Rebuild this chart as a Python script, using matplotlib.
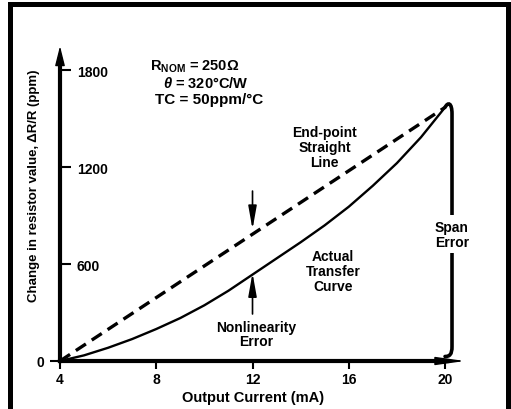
import numpy as np
import matplotlib
matplotlib.use('Agg')
import matplotlib.pyplot as plt
from matplotlib.patches import Rectangle, PathPatch
from matplotlib.path import Path
from matplotlib.ticker import FixedLocator, FixedFormatter

plt.rcParams['font.family'] = ['Liberation Sans', 'DejaVu Sans']
plt.rcParams['font.weight'] = 'bold'
plt.rcParams['axes.labelweight'] = 'bold'
plt.rcParams['mathtext.fontset'] = 'custom'
plt.rcParams['mathtext.rm'] = 'Liberation Sans:bold'
plt.rcParams['mathtext.it'] = 'Liberation Sans:italic:bold'
plt.rcParams['mathtext.bf'] = 'Liberation Sans:bold'

# self-heating transfer curve of the sense resistor, 4-20 mA loop
current_ma = [4, 5, 6, 7, 8, 9, 10, 11, 12, 13, 14, 15, 16, 17, 18, 19, 20]
actual_ppm = [0, 35, 82, 136, 198, 266, 345, 435, 535, 635, 735, 840, 955,
              1085, 1225, 1385, 1570]

# straight line through the two end points
endpoint_ma = [4, 20]
endpoint_ppm = [0, 1570]

x_ticks = [4, 8, 12, 16, 20]
y_ticks = [600, 1200, 1800]
y_zero = [0]

nonlin_ma = 12

fig = plt.figure(figsize=(5.11, 4.10), dpi=100)
ax = fig.add_axes([60/511, 48/410, 405/511, 315/410])
ax.set_xlim(4, 20.83)
ax.set_ylim(0, 1950)
ax.patch.set_visible(False)

for s in ['top', 'right']:
    ax.spines[s].set_visible(False)
for s in ['left', 'bottom']:
    ax.spines[s].set_linewidth(3)
ax.spines['left'].set_bounds(0, 1870)
ax.spines['bottom'].set_bounds(4, 20.1)

# arrow heads on both axes
ax.annotate('', xy=(0, 1), xytext=(0, 0.93), xycoords='axes fraction',
            arrowprops=dict(arrowstyle='-|>,head_length=1.2,head_width=0.3',
                            color='k', lw=1, shrinkA=0, shrinkB=0),
            annotation_clip=False)
ax.annotate('', xy=(1, 0), xytext=(0.93, 0), xycoords='axes fraction',
            arrowprops=dict(arrowstyle='-|>,head_length=1.8,head_width=0.25',
                            color='k', lw=1, shrinkA=0, shrinkB=0),
            annotation_clip=False)

ax.set_xticks(x_ticks)
ax.tick_params(axis='x', direction='out', length=6, width=1.5, pad=2, labelsize=10)
ax.set_yticks(y_ticks)
ax.tick_params(axis='y', which='major', direction='in', length=8, width=1.5,
               pad=-12, labelsize=10)
plt.setp(ax.yaxis.get_majorticklabels(), ha='left')
ax.yaxis.set_minor_locator(FixedLocator(y_zero))
ax.yaxis.set_minor_formatter(FixedFormatter([str(v) for v in y_zero]))
ax.tick_params(axis='y', which='minor', direction='out', length=7, width=1.5,
               pad=4.5, labelsize=10)

ax.set_xlabel('Output Current (mA)', fontsize=10.5)
ax.xaxis.set_label_coords(0.4765, -0.092)
ax.set_ylabel('Change in resistor value, \u0394R/R (ppm)', fontsize=9.5)
ax.yaxis.set_label_coords(-0.05, 0.559)

ax.plot(endpoint_ma, endpoint_ppm, color='k', lw=2.4,
        linestyle=(0, (3.6, 2.1)), dash_capstyle='butt')
ax.plot(current_ma, actual_ppm, color='k', lw=1.7, solid_capstyle='round')

# span error bracket on the right
top = endpoint_ppm[-1]
xb = 20.29
verts = [(20.0, top), (20.12, top + 35), (xb, top + 30), (xb, top - 40),
         (xb, 90), (xb, 40), (xb - 0.1, 28), (20.0, 28)]
codes = [Path.MOVETO, Path.CURVE4, Path.CURVE4, Path.CURVE4,
         Path.LINETO, Path.CURVE4, Path.CURVE4, Path.CURVE4]
ax.add_patch(PathPatch(Path(verts, codes), fill=False, lw=2.6, ec='k',
                       capstyle='round', clip_on=False))
ax.text(xb, top / 2, 'Span\nError', ha='center', va='center', fontsize=10,
        linespacing=1.1, bbox=dict(fc='white', ec='none', pad=3))

# nonlinearity arrows at mid-scale
line_at = np.interp(nonlin_ma, endpoint_ma, endpoint_ppm)
curve_at = actual_ppm[current_ma.index(nonlin_ma)]
arrow_kw = dict(arrowstyle='-|>,head_length=1.4,head_width=0.25', lw=1.2,
                color='k', shrinkA=0, shrinkB=0)
ax.annotate('', xy=(nonlin_ma, line_at + 30), xytext=(nonlin_ma, 1052),
            arrowprops=arrow_kw)
ax.annotate('', xy=(nonlin_ma, curve_at + 10), xytext=(nonlin_ma, 291),
            arrowprops=arrow_kw)

ax.text(12.15, 167, 'Nonlinearity\nError', ha='center', va='center',
        fontsize=10, linespacing=1.05)
ax.text(15.35, 557, 'Actual\nTransfer\nCurve', ha='center', va='center',
        fontsize=10, linespacing=1.05)
ax.text(15.0, 1325, 'End-point\nStraight\nLine', ha='center', va='center',
        fontsize=10, linespacing=1.05)

ax.text(7.74, 1826, 'R$_\\mathregular{NOM}$ = 250\u03a9', fontsize=10.5, va='center')
ax.text(8.28, 1727, '$\\theta$ = 320\u00b0C/W', fontsize=10.5, va='center')
ax.text(7.95, 1622, 'TC = 50ppm/\u00b0C', fontsize=11, va='center')

# outer border of the figure
fig.add_artist(Rectangle((10/511, -0.1), 498/511, 1 - 5/410 + 0.1,
                         transform=fig.transFigure, fill=False, lw=3.6, ec='k'))

fig.savefig('out.png', dpi=100)
